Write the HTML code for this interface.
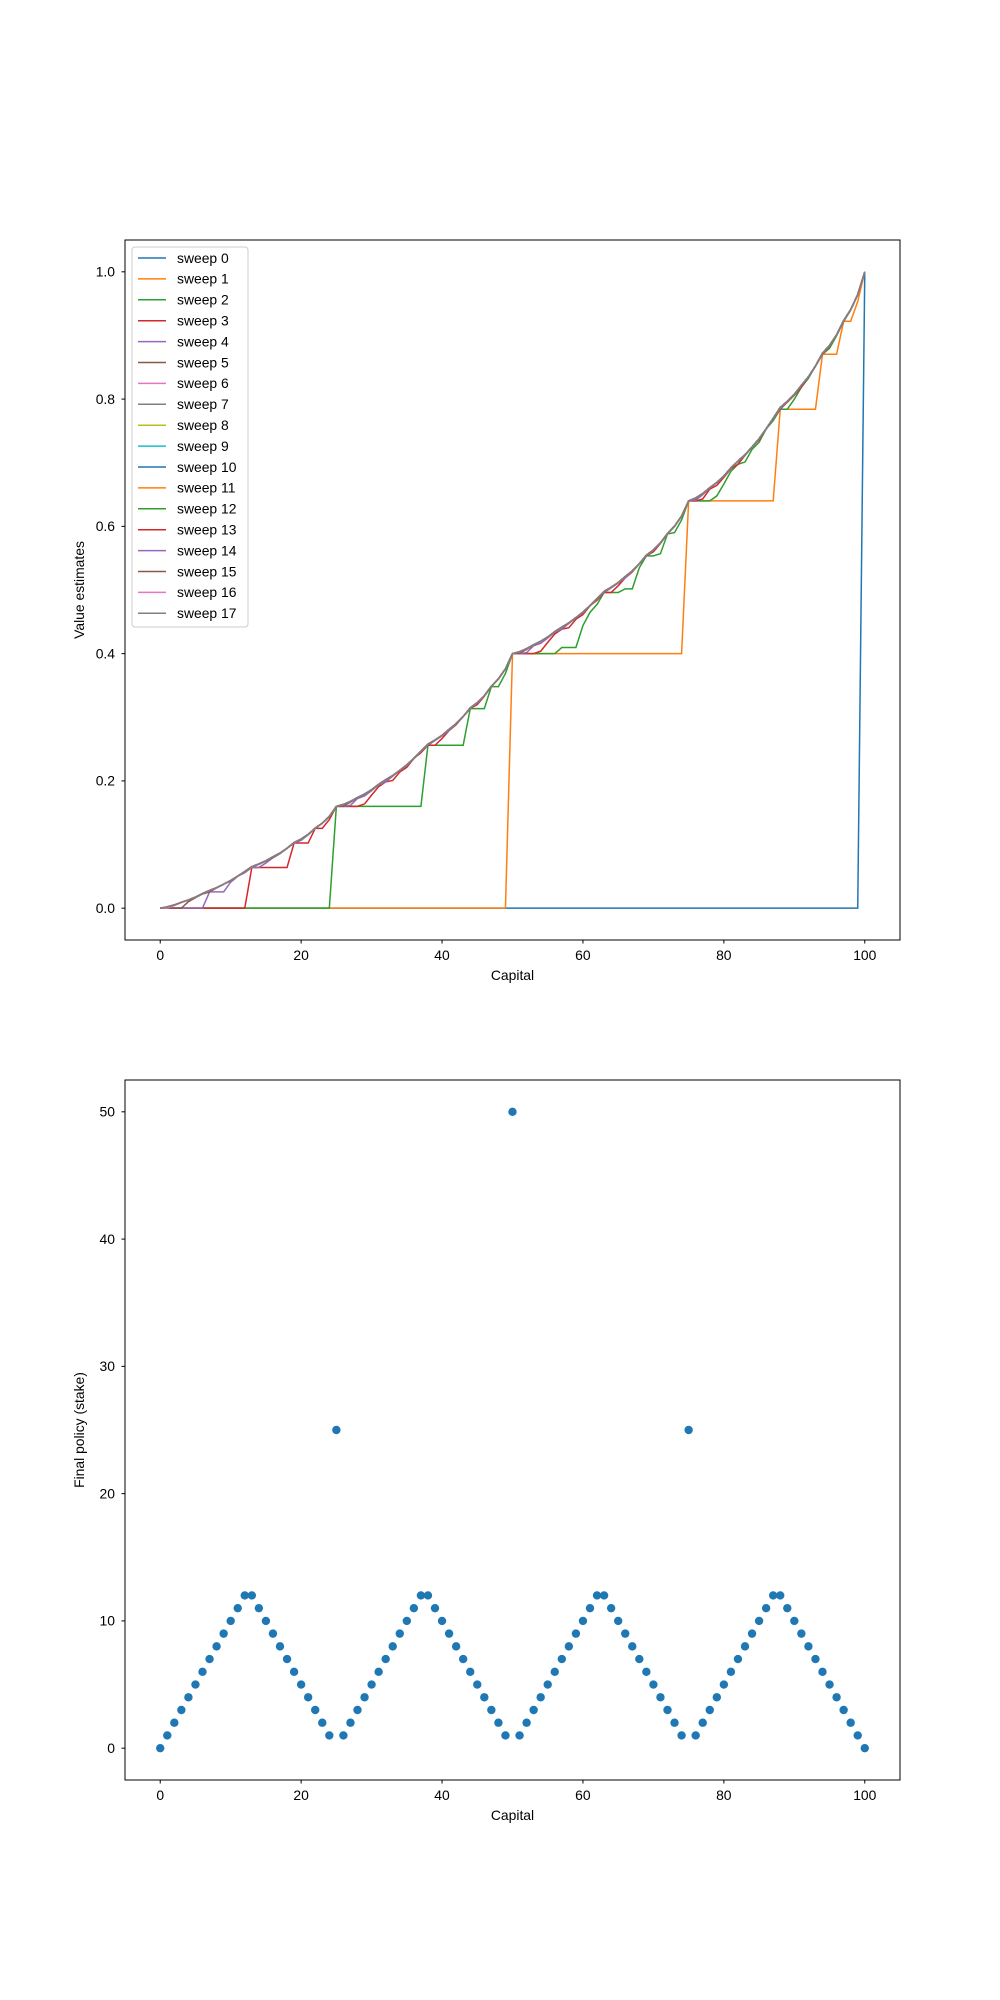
<!DOCTYPE html>
<html><head><meta charset="utf-8"><style>
body{margin:0;background:#fff}
svg{display:block}
text{font-family:"Liberation Sans",sans-serif;font-size:13.9px;fill:#000}
</style></head><body>
<svg id="s" width="1000" height="2000" xmlns="http://www.w3.org/2000/svg">
<rect width="1000" height="2000" fill="#fff"/>
<g id="gtop"></g>
<g id="gbot"></g>
<rect x="125" y="240" width="775" height="700" fill="none" stroke="#000" stroke-width="1"/>
<g text-anchor="middle">
<text x="160.2" y="960">0</text><text x="301.1" y="960">20</text><text x="442" y="960">40</text><text x="582.9" y="960">60</text><text x="723.8" y="960">80</text><text x="864.8" y="960">100</text>
<text x="512.5" y="980">Capital</text>
<text x="160.2" y="1800">0</text><text x="301.1" y="1800">20</text><text x="442" y="1800">40</text><text x="582.9" y="1800">60</text><text x="723.8" y="1800">80</text><text x="864.8" y="1800">100</text>
<text x="512.5" y="1820">Capital</text>
</g>
<g stroke="#000" id="ticks"></g>
<g text-anchor="end">
<text x="115" y="913">0.0</text><text x="115" y="785.7">0.2</text><text x="115" y="658.5">0.4</text><text x="115" y="531.2">0.6</text><text x="115" y="403.9">0.8</text><text x="115" y="276.6">1.0</text>
<text x="115" y="1753">0</text><text x="115" y="1625.7">10</text><text x="115" y="1498.5">20</text><text x="115" y="1371.2">30</text><text x="115" y="1243.9">40</text><text x="115" y="1116.6">50</text>
</g>
<text transform="translate(84,590) rotate(-90)" text-anchor="middle">Value estimates</text>
<text transform="translate(84,1430) rotate(-90)" text-anchor="middle">Final policy (stake)</text>
<rect x="125" y="1080" width="775" height="700" fill="none" stroke="#000" stroke-width="1"/>
<g id="leg"></g>
</svg>
<script>
(function(){
var tab=["#1f77b4","#ff7f0e","#2ca02c","#d62728","#9467bd","#8c564b","#e377c2","#7f7f7f","#bcbd22","#17becf"];
function X(x){return 125+(x+5)/110*775;}
function YT(v){return 940-(v+0.05)/1.1*700;}
function YB(v){return 1780-(v+2.5)/55*700;}
var NS="http://www.w3.org/2000/svg";
function el(p,t,a){var e=document.createElementNS(NS,t);for(var k in a)e.setAttribute(k,a[k]);p.appendChild(e);return e;}
var V=[];for(var i=0;i<=100;i++)V.push(0);V[100]=1;
var hist=[V.slice()];
for(var sw=1;sw<=17;sw++){
 for(var s=1;s<100;s++){var b=0;for(var a=1;a<=Math.min(s,100-s);a++){var r=0.4*V[s+a]+0.6*V[s-a];if(r>b)b=r;}V[s]=b;}
 hist.push(V.slice());
}
var gTop=document.getElementById("gtop");
for(var k=0;k<hist.length;k++){var d="";for(var i=0;i<=100;i++)d+=(i?"L":"M")+X(i).toFixed(2)+","+YT(hist[k][i]).toFixed(2);
 el(gTop,"path",{d:d,fill:"none",stroke:tab[k%10],"stroke-width":1.5});}
var P=[0];
for(var s=1;s<100;s++){var p;
 if(s%25==0)p=(s==50?50:25);
 else{var m=s%25;
  if(m<=12)p=m; else if(m==13)p=12; else p=25-m;}
 P.push(p);}
P.push(0);
var gBot=document.getElementById("gbot");
for(var i=0;i<=100;i++)el(gBot,"circle",{cx:X(i),cy:YB(P[i]),r:4.2,fill:"#1f77b4"});
var t=document.getElementById("ticks");
[0,20,40,60,80,100].forEach(function(v){el(t,"line",{x1:X(v),x2:X(v),y1:940,y2:943.5});el(t,"line",{x1:X(v),x2:X(v),y1:1780,y2:1783.5});});
[0,0.2,0.4,0.6,0.8,1].forEach(function(v){el(t,"line",{x1:121.5,x2:125,y1:YT(v),y2:YT(v)});});
[0,10,20,30,40,50].forEach(function(v){el(t,"line",{x1:121.5,x2:125,y1:YB(v),y2:YB(v)});});
var lg=document.getElementById("leg");
el(lg,"rect",{x:132,y:247,width:116,height:380,rx:3,fill:"#fff",stroke:"#ccc","fill-opacity":0.8});
for(var k=0;k<18;k++){var y=258+k*20.9;
 el(lg,"line",{x1:138,x2:166,y1:y,y2:y,stroke:tab[k%10],"stroke-width":1.5});
 var tx=el(lg,"text",{x:177,y:y+4.8});tx.textContent="sweep "+k;}
})();
</script>
</body></html>
